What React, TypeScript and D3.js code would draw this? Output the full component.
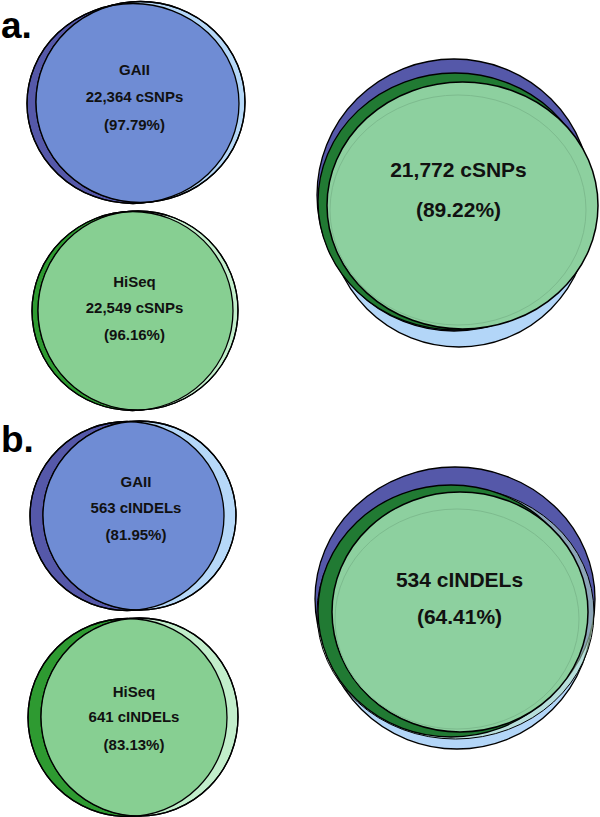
import React from "react";
import * as d3 from "d3";

// ---- data ----
const panelLabels = ["a.", "b."];
const platforms = ["GAII", "HiSeq"];
const variantTypes = ["cSNPs", "cINDELs"];
const gaiiCounts = [22364, 563];
const gaiiPercents = [97.79, 81.95];
const hiseqCounts = [22549, 641];
const hiseqPercents = [96.16, 83.13];
const sharedCounts = [21772, 534];
const sharedPercents = [89.22, 64.41];

// ---- layout / style ----
type E = { cx: number; cy: number; rx: number; ry: number };
const FONT = "'Liberation Sans', Arial, Helvetica, sans-serif";
const fmtCount = d3.format(",");
const fmtPct = (v: number) => `(${d3.format(".2f")(v)}%)`;

const smallLayout = [
  // panel a
  [
    { dark: { cx: 133, cy: 103.5, rx: 106, ry: 100 }, light: { cx: 140.5, cy: 102, rx: 104.5, ry: 100.5 }, ty: [70, 97, 125], tx: 134.5 },
    { dark: { cx: 132.5, cy: 311, rx: 100.5, ry: 99.5 }, light: { cx: 138, cy: 310.5, rx: 100, ry: 99.5 }, ty: [282, 308, 335], tx: 134.5 },
  ],
  // panel b
  [
    { dark: { cx: 127, cy: 516, rx: 97, ry: 94.5 }, light: { cx: 139.5, cy: 515.5, rx: 96.5, ry: 94.5 }, ty: [482, 508, 535], tx: 136 },
    { dark: { cx: 127.5, cy: 717.5, rx: 99.5, ry: 99 }, light: { cx: 139.5, cy: 717, rx: 98.5, ry: 99 }, ty: [692, 717, 745], tx: 134 },
  ],
];

const smallColors = [
  { dark: "#5558a9", light: "#b6d8f8", mid: "#6f8cd4" },
  { dark: "#2e9a31", light: "#c2eecb", mid: "#87cf92" },
];

const bigLayout = [
  {
    lightBlue: { cx: 459, cy: 217, rx: 130, ry: 130 },
    darkBlue: { cx: 454, cy: 195, rx: 137, ry: 136 },
    lightGreen: { cx: 461, cy: 205, rx: 135, ry: 124 },
    darkGreen: { cx: 455, cy: 201.5, rx: 137, ry: 128.5 },
    core: { cx: 462.5, cy: 205.5, rx: 135.5, ry: 123.5 },
    faint: { cx: 458, cy: 210, rx: 128, ry: 115 },
    tx: 458.5,
    ty: [170, 210],
  },
  {
    lightBlue: { cx: 457, cy: 614, rx: 135, ry: 135 },
    darkBlue: { cx: 455, cy: 599, rx: 140, ry: 132 },
    lightGreen: { cx: 455.5, cy: 613, rx: 138.5, ry: 126 },
    darkGreen: { cx: 451, cy: 611, rx: 133, ry: 126 },
    core: { cx: 460, cy: 612, rx: 128, ry: 120 },
    faint: { cx: 457, cy: 619, rx: 122, ry: 110 },
    tx: 459.5,
    ty: [580, 617],
  },
];

const panelLabelY = [38, 452];

function Ell({ e, fill, stroke = "#000", sw = 1.3, opacity = 1, clip }: { e: E; fill: string; stroke?: string; sw?: number; opacity?: number; clip?: string }) {
  return (
    <ellipse cx={e.cx} cy={e.cy} rx={e.rx} ry={e.ry} fill={fill} fillOpacity={opacity} stroke={stroke} strokeWidth={sw} clipPath={clip} />
  );
}

export default function App() {
  return (
    <svg width={600} height={817} style={{ position: "absolute", left: 0, top: 0, background: "#fff" }} fontFamily={FONT}>
      <defs>
        {smallLayout.map((panel, p) =>
          panel.map((s, i) => (
            <clipPath id={`clip-${p}-${i}`} key={`c${p}${i}`}>
              <ellipse cx={s.dark.cx} cy={s.dark.cy} rx={s.dark.rx} ry={s.dark.ry} />
            </clipPath>
          ))
        )}
      </defs>
      {panelLabels.map((lab, p) => (
        <text key={lab} x={1} y={panelLabelY[p]} fontSize={37} fontWeight="bold" fill="#000">
          {lab}
        </text>
      ))}
      {smallLayout.map((panel, p) =>
        panel.map((s, i) => {
          const c = smallColors[i];
          const count = i === 0 ? gaiiCounts[p] : hiseqCounts[p];
          const pct = i === 0 ? gaiiPercents[p] : hiseqPercents[p];
          const lines = [platforms[i], `${fmtCount(count)} ${variantTypes[p]}`, fmtPct(pct)];
          return (
            <g key={`s${p}${i}`}>
              <Ell e={s.dark} fill={c.dark} />
              <Ell e={s.light} fill={c.light} />
              <Ell e={s.light} fill={c.mid} stroke="none" clip={`url(#clip-${p}-${i})`} />
              <Ell e={s.dark} fill="none" sw={1.3} />
              <Ell e={s.light} fill="none" sw={1.3} />
              {lines.map((t, k) => (
                <text key={k} x={s.tx} y={s.ty[k]} dy="0.35em" textAnchor="middle" fontSize={15} fontWeight="bold" fill="#111">
                  {t}
                </text>
              ))}
            </g>
          );
        })
      )}
      {bigLayout.map((b, p) => (
        <g key={`b${p}`}>
          <Ell e={b.lightBlue} fill="#b3d6f8" />
          <Ell e={b.darkBlue} fill="#5558a9" />
          <Ell e={b.lightGreen} fill="#b9e6c2" opacity={0.55} sw={1} />
          <Ell e={b.darkGreen} fill="#217a33" />
          <Ell e={b.core} fill="#8dd09f" sw={1.5} />
          <Ell e={b.faint} fill="none" stroke="#7dbb8e" sw={1} opacity={0} />
          <text x={b.tx} y={b.ty[0]} dy="0.35em" textAnchor="middle" fontSize={21} fontWeight="bold" fill="#111">
            {`${fmtCount(sharedCounts[p])} ${variantTypes[p]}`}
          </text>
          <text x={b.tx} y={b.ty[1]} dy="0.35em" textAnchor="middle" fontSize={21} fontWeight="bold" fill="#111">
            {fmtPct(sharedPercents[p])}
          </text>
        </g>
      ))}
    </svg>
  );
}
